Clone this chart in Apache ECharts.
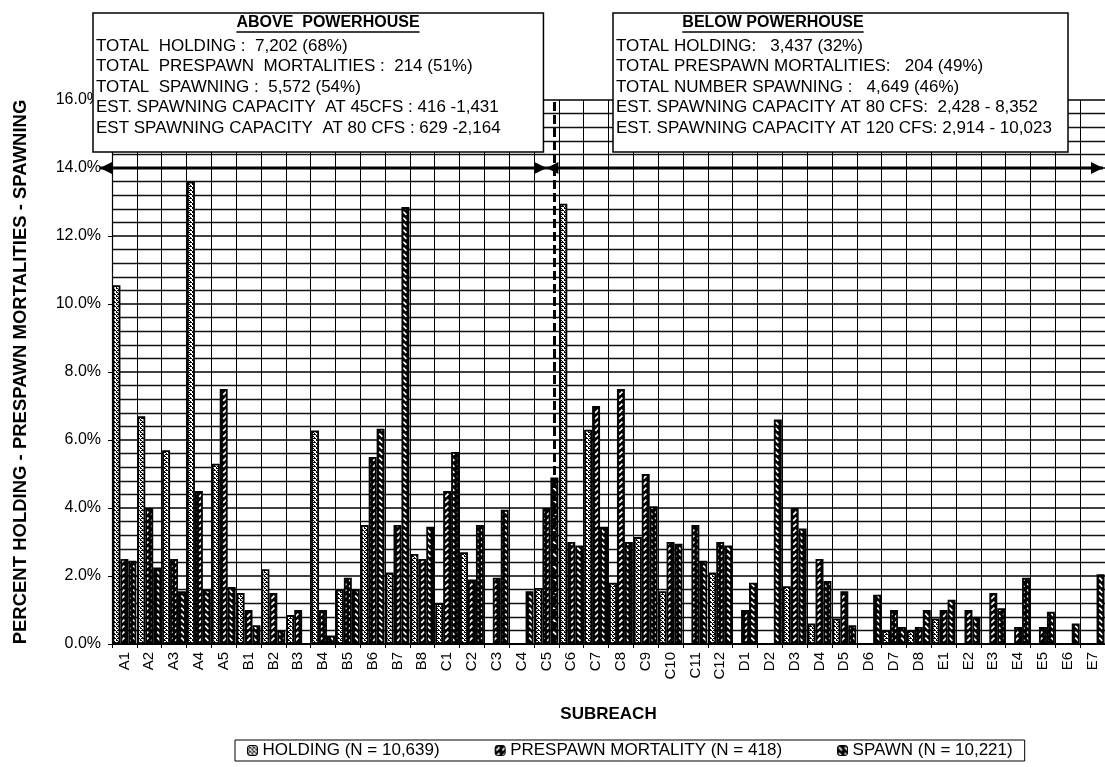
<!DOCTYPE html>
<html>
<head>
<meta charset="utf-8">
<script src="https://cdn.jsdelivr.net/npm/echarts@6/dist/echarts.min.js"></script>
<style>
html,body{margin:0;padding:0;background:#fff;}
#chart{width:1105px;height:767px;}
</style>
</head>
<body>
<div id="chart"></div>
<script>
// ---------------- DATA ----------------
const categories = ['A1','A2','A3','A4','A5','B1','B2','B3','B4','B5','B6','B7','B8',
  'C1','C2','C3','C4','C5','C6','C7','C8','C9','C10','C11','C12',
  'D1','D2','D3','D4','D5','D6','D7','D8','E1','E2','E3','E4','E5','E6','E7'];
const holding = [10.55,6.7,5.7,13.6,5.3, 1.5,2.2,0.85,6.28,1.6,3.5,2.1,2.65,
  1.2,2.7,0,0,1.65,12.95,6.3,1.8,3.15,1.55,0,2.1,
  0,0,1.7,0.6,0.75,0,0.4,0.4, 0.75,0,0,0,0,0,0];
const prespawn = [2.5,4.0,2.5,4.5,7.5, 1.0,1.5,1.0,1.0,1.95,5.5,3.5,2.5,
  4.5,1.9,1.95,0,4.0,3.0,7.0,7.5,5.0,3.0,3.5,3.0,
  1.0,0,4.0,2.5,1.55,0,1.0,0.5, 1.0,1.0,1.5,0.5,0.5,0,0];
const spawn = [2.45,2.25,1.55,1.6,1.68, 0.55,0.4,0,0.25,1.6,6.33,12.85,3.45,
  5.65,3.5,3.95,1.55,4.9,2.9,3.45,3.0,4.05,2.95,2.45,2.9,
  1.8,6.6,3.4,1.85,0.55,1.45,0.5,1.0, 1.3,0.8,1.05,1.95,0.95,0.6,2.05];
const seriesNames = ['HOLDING (N = 10,639)','PRESPAWN MORTALITY (N = 418)','SPAWN (N = 10,221)'];
const yMin = 0, yMax = 16, yInterval = 2;
const dividerCategory = 'C5';
const arrowLevel = 14;
const aboveTitle = 'ABOVE  POWERHOUSE';
const aboveLines = ['TOTAL  HOLDING :  7,202 (68%)',
  'TOTAL  PRESPAWN  MORTALITIES :  214 (51%)',
  'TOTAL  SPAWNING :  5,572 (54%)',
  'EST. SPAWNING CAPACITY  AT 45CFS : 416 -1,431',
  'EST SPAWNING CAPACITY  AT 80 CFS : 629 -2,164'];
const belowTitle = 'BELOW POWERHOUSE';
const belowLines = ['TOTAL HOLDING:   3,437 (32%)',
  'TOTAL PRESPAWN MORTALITIES:   204 (49%)',
  'TOTAL NUMBER SPAWNING :   4,649 (46%)',
  'EST. SPAWNING CAPACITY AT 80 CFS:  2,428 - 8,352',
  'EST. SPAWNING CAPACITY AT 120 CFS: 2,914 - 10,023'];

// ---------------- PATTERNS ----------------
function makePattern(kind){
  const c = document.createElement('canvas');
  const ctx = c.getContext('2d');
  if (kind === 'dots'){
    c.width = 4; c.height = 4;
    ctx.fillStyle = '#fff'; ctx.fillRect(0,0,4,4);
    ctx.fillStyle = '#000';
    ctx.fillRect(0,0,2,1); ctx.fillRect(2,1,1,1); ctx.fillRect(2,2,2,1); ctx.fillRect(0,3,1,1); ctx.fillRect(1,2,1,1);
  } else {
    c.width = 6; c.height = 6;
    ctx.fillStyle = '#000'; ctx.fillRect(0,0,6,6);
    ctx.strokeStyle = '#fff'; ctx.lineWidth = 1.7;
    ctx.beginPath();
    if (kind === 'fwd'){ ctx.moveTo(1.2,4.8); ctx.lineTo(4.4,1.6); }
    else { ctx.moveTo(1.2,1.6); ctx.lineTo(4.4,4.8); }
    ctx.stroke();
  }
  return {image: c, repeat: 'repeat'};
}
const patterns = [makePattern('dots'), makePattern('fwd'), makePattern('back')];
const FONT = '"Liberation Sans", Arial, sans-serif';

const chart = echarts.init(document.getElementById('chart'), null, {renderer: 'canvas'});
const grid = {left: 112, top: 100, width: 1000, height: 544};

function barSeries(name, data, idx){
  const s = {
    name: name, type: 'bar', data: data,
    barGap: '0%', barCategoryGap: '4%',
    itemStyle: {color: patterns[idx], borderColor: '#000', borderWidth: 1.8},
    emphasis: {disabled: true},
    animation: false
  };
  if (idx === 2){
    s.markLine = {
      silent: true, symbol: 'none', animation: false,
      label: {show: false},
      lineStyle: {type: [9, 4], width: 3, color: '#000'},
      data: [{xAxis: dividerCategory}]
    };
  }
  return s;
}

chart.setOption({
  backgroundColor: '#fff',
  animation: false,
  textStyle: {fontFamily: FONT},
  grid: grid,
  legend: {
    data: seriesNames, left: 235, top: 740,
    itemWidth: 10, itemHeight: 10, itemGap: 55,
    borderColor: '#000', borderWidth: 1, padding: [2, 12, 2, 12],
    textStyle: {fontSize: 17, color: '#000', fontFamily: FONT},
    itemStyle: {borderColor: '#000', borderWidth: 1}
  },
  xAxis: {
    type: 'category', data: categories,
    name: 'SUBREACH', nameLocation: 'middle', nameGap: 62,
    nameTextStyle: {fontSize: 17, fontWeight: 'bold', color: '#000', fontFamily: FONT},
    axisLine: {lineStyle: {color: '#000', width: 1.2}},
    axisTick: {show: true, length: 4, lineStyle: {color: '#000'}},
    axisLabel: {rotate: 90, fontSize: 15, color: '#000', margin: 8, fontFamily: FONT},
    splitLine: {show: true, lineStyle: {color: '#000', width: 1}}
  },
  yAxis: {
    type: 'value', min: yMin, max: yMax, interval: yInterval,
    name: 'PERCENT HOLDING - PRESPAWN MORTALITIES - SPAWNING',
    nameLocation: 'middle', nameGap: 82, nameRotate: 90,
    nameTextStyle: {fontSize: 18.5, fontWeight: 'bold', color: '#000', fontFamily: FONT},
    axisLine: {show: true, lineStyle: {color: '#000', width: 1.2}},
    axisTick: {show: true, length: 4, lineStyle: {color: '#000'}},
    axisLabel: {fontSize: 16, color: '#000', margin: 11, fontFamily: FONT,
      formatter: v => v.toFixed(1) + '%'},
    splitLine: {show: true, lineStyle: {color: '#000', width: 1.5}},
    minorTick: {show: false, splitNumber: 5},
    minorSplitLine: {show: true, lineStyle: {color: '#111', width: 1.3}}
  },
  series: [
    barSeries(seriesNames[0], holding, 0),
    barSeries(seriesNames[1], prespawn, 1),
    barSeries(seriesNames[2], spawn, 2)
  ]
});

// ---------------- ANNOTATIONS ----------------
const mctx = document.createElement('canvas').getContext('2d');
function textWidth(t, font){ mctx.font = font; return mctx.measureText(t).width; }

function textBox(x, y, w, h, title, titleCx, lines){
  const els = [];
  els.push({type: 'rect', shape: {x: x, y: y, width: w, height: h},
    style: {fill: '#fff', stroke: '#000', lineWidth: 1.5}, z: 100});
  const tFont = 'bold 16px ' + FONT;
  const tw = textWidth(title, tFont);
  els.push({type: 'text', x: titleCx - tw/2, y: y + 10, z: 101,
    style: {text: title, font: tFont, fill: '#000', verticalAlign: 'middle'}});
  els.push({type: 'line', z: 101, shape: {x1: titleCx - tw/2, y1: y + 19, x2: titleCx + tw/2, y2: y + 19},
    style: {stroke: '#000', lineWidth: 1.4}});
  const lFont = '17px ' + FONT;
  lines.forEach((ln, i) => {
    els.push({type: 'text', x: x + 3, y: y + 33 + i * 20.5, z: 101,
      style: {text: ln, font: lFont, fill: '#000', verticalAlign: 'middle'}});
  });
  return els;
}

function arrowHead(tipX, y, dir){
  const L = 12, H = 6;
  return {type: 'polygon', z: 90,
    shape: {points: [[tipX, y], [tipX - dir * L, y - H], [tipX - dir * L, y + H]]},
    style: {fill: '#000'}};
}

function drawAnnotations(){
  const yA = chart.convertToPixel({yAxisIndex: 0}, arrowLevel);
  const xD = chart.convertToPixel({xAxisIndex: 0}, dividerCategory);
  const leftX = 100, rightX = 1103;
  const g = [];
  g.push({type: 'line', z: 90, shape: {x1: leftX, y1: yA, x2: xD, y2: yA}, style: {stroke: '#000', lineWidth: 3}});
  g.push({type: 'line', z: 90, shape: {x1: xD, y1: yA, x2: rightX, y2: yA}, style: {stroke: '#000', lineWidth: 3}});
  g.push(arrowHead(leftX, yA, -1));
  g.push(arrowHead(xD, yA, 1));
  g.push(arrowHead(xD, yA, -1));
  g.push(arrowHead(rightX, yA, 1));
  textBox(93, 13, xD - 3 - 93, 139, aboveTitle, 328, aboveLines).forEach(e => g.push(e));
  textBox(613, 13, 455, 139, belowTitle, 773, belowLines).forEach(e => g.push(e));
  chart.setOption({graphic: g});
}
drawAnnotations();
</script>
</body>
</html>
